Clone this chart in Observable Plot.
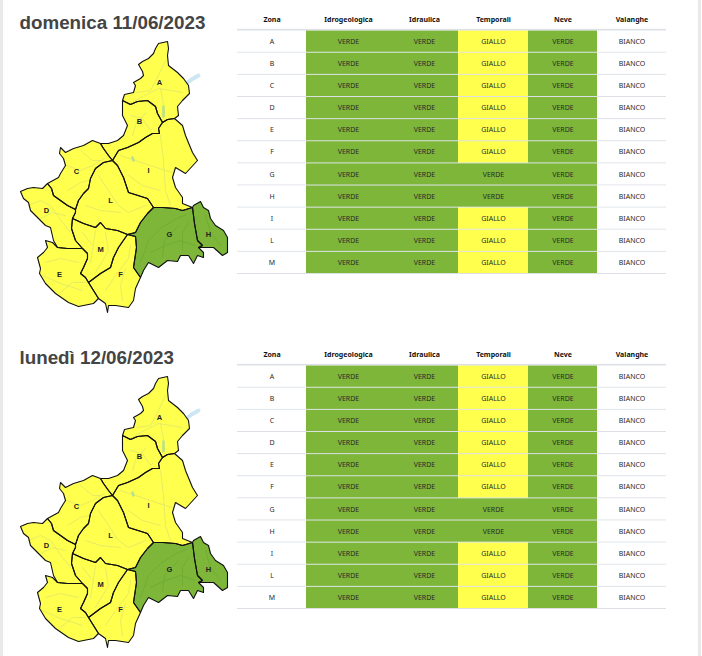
<!DOCTYPE html>
<html><head><meta charset="utf-8">
<script src="https://cdn.jsdelivr.net/npm/d3@7"></script>
<script src="https://cdn.jsdelivr.net/npm/@observablehq/plot@0.6"></script>
<style>
html,body{margin:0;padding:0;background:#fff;overflow:hidden}
#page{position:relative;width:702px;height:656px;overflow:hidden}
.panel{display:flex;align-items:flex-start}
.panel svg{display:block;background:transparent}
.edge{position:absolute;top:0;bottom:0;width:3px;background:#e9e9e9}
</style></head><body>
<div id="page"><div class="edge" style="left:0"></div><div class="edge" style="left:698px"></div></div>
<script>
// ---- Text and values ----
const days = ["domenica 11/06/2023", "lunedì 12/06/2023"];
const zones = ["A","B","C","D","E","F","G","H","I","L","M"];
const columns = ["Zona","Idrogeologica","Idraulica","Temporali","Neve","Valanghe"];
const idrogeologica = Array(11).fill("VERDE");
const idraulica = Array(11).fill("VERDE");
const temporali = ["GIALLO","GIALLO","GIALLO","GIALLO","GIALLO","GIALLO","VERDE","VERDE","GIALLO","GIALLO","GIALLO"];
const neve = Array(11).fill("VERDE");
const valanghe = Array(11).fill("BIANCO");
const levels = ["VERDE","GIALLO","BIANCO"];
const levelColors = ["#7db638","#ffff4d","#ffffff"];
const columnEdges = [0,69,153,221,291,360,429];

// ---- Map boundaries (map units) ----
const aNorth = [[122,100],[124,94],[133,92],[135,85],[133,82],[140,78],[143,75],[142,71],[138,64],[142,61],[148,58],[153,53],[155,48],[158,43],[167,41],[168,48],[167,55],[168,65],[177,72],[183,78],[188,85],[189,93],[182,100],[177,106],[178,115],[174,118]];
const aB = [[122,100],[130,104],[137,101],[147,100],[155,106],[157,113],[162,122]];
const aI = [[162,122],[167,119],[174,118]];
const bWest = [[122,100],[122,115],[127,125],[123,135],[117,140],[108,143],[100,143]];
const bC = [[100,143],[103,148],[108,155],[112,160]];
const bI = [[112,160],[118,150],[127,147],[138,142],[145,137],[152,133],[159,133],[158,128],[162,122]];
const iEast = [[174,118],[182,125],[185,135],[192,152],[197,160],[185,173],[175,167],[172,177],[175,187],[182,197],[182,203],[192,207]];
const iG = [[192,207],[182,210],[175,208],[162,207],[153,207]];
const iL = [[153,207],[147,198],[128,192],[123,177],[117,165],[112,160]];
const lC = [[112,160],[103,162],[95,168],[90,178],[88,188],[83,193],[78,200],[75,209]];
const lD = [[75,209],[75,212],[72,218]];
const lM = [[72,218],[83,223],[95,227],[100,222],[105,228],[117,230],[127,234]];
const lG = [[127,234],[135,232],[140,222],[147,213],[153,207]];
const cNorth = [[100,143],[92,140],[83,145],[73,148],[65,152],[60,147],[59,153],[63,158],[65,165],[60,173],[58,177],[47,183]];
const cD = [[47,183],[51,188],[53,195],[60,200],[67,205],[75,209]];
const dWest = [[47,183],[42,188],[33,187],[27,188],[20,191],[23,198],[28,202],[30,210],[38,218],[45,225],[50,227],[53,240],[57,247]];
const dE = [[57,247],[67,248],[82,248]];
const dM = [[72,218],[71,228],[75,240],[82,248]];
const eM = [[82,248],[87,253],[87,258],[83,267],[80,273],[85,277],[88,282]];
const eWest = [[57,247],[52,242],[45,240],[47,247],[43,252],[37,257],[40,268],[39,273],[45,283],[55,293],[68,302],[78,306],[93,303],[98,298]];
const eF = [[88,282],[93,290],[98,298]];
const fM = [[127,234],[118,247],[113,257],[110,267],[100,273],[88,282]];
const fSouth = [[98,298],[105,303],[107,312],[108,305],[115,305],[128,307],[133,300],[135,288],[140,277]];
const fG = [[127,234],[135,236],[136,247],[133,267],[140,277]];
const gSouth = [[140,277],[143,270],[148,262],[158,267],[167,260],[177,261],[180,255],[188,255],[193,263],[197,255],[203,257],[203,252],[198,247]];
const gH = [[192,207],[194,223],[197,240],[202,245],[198,247]];
const hEast = [[192,207],[193,205],[200,201],[203,207],[208,210],[210,218],[215,225],[223,230],[227,237],[227,252],[222,255],[213,247],[203,247],[198,247]];

const rev = a => a.slice().reverse();
const ring = (...arcs) => arcs.flat();
const zoneRings = {
  A: ring(aNorth, rev(aI), rev(aB)),
  B: ring(aB, rev(bI), rev(bC), rev(bWest)),
  C: ring(bC, lC, rev(cD), rev(cNorth)),
  D: ring(cD, lD, dM, rev(dE), rev(dWest)),
  E: ring(dE, eM, eF, rev(eWest)),
  F: ring(fM, eF, fSouth, rev(fG)),
  G: ring(rev(iG), gH, rev(gSouth), rev(fG), lG),
  H: ring(hEast, rev(gH)),
  I: ring(bI, aI, iEast, iG, iL),
  L: ring(iL, lC, lD, lM, lG),
  M: ring(lM, fM, rev(eM), rev(dM))
};
const labelX = [159,139,76,46,59,120,169,208,148,110,100];
const labelY = [82,121,171,210,274,274,234,234,170,200,249];

// faint river traces
const riversYellow = [
 [[127,105],[140,97],[158,88],[170,90],[182,92]],[[136,92],[150,90],[158,75],[165,60]],[[160,88],[163,104]],
 [[130,115],[142,118],[150,130],[152,128]],[[132,135],[136,122],[146,112]],
 [[120,155],[135,160],[150,165],[165,170],[172,172]],[[160,135],[163,160],[165,190],[170,205]],[[128,175],[142,185],[160,190]],
 [[66,165],[80,170],[92,165],[104,158]],[[67,190],[80,182],[88,180]],[[80,150],[92,160],[100,160]],
 [[28,205],[40,200],[50,205],[62,222],[70,232]],[[40,218],[52,212],[65,215]],
 [[98,175],[108,190],[118,205],[128,212],[145,205]],[[85,205],[100,210],[120,212]],
 [[95,230],[92,250],[90,262]],[[105,232],[108,250],[95,272]],[[82,232],[92,245]],
 [[45,262],[60,258],[78,262]],[[42,275],[60,283],[82,290]],[[60,292],[72,282],[85,282]],
 [[105,290],[115,275],[128,258],[130,245]],[[122,300],[120,285],[125,268]]
];
const riversGreen = [
 [[140,262],[148,240],[160,228],[176,218],[186,214]],[[150,252],[165,245],[180,240],[195,245]],
 [[162,256],[164,240],[178,225]],[[182,250],[182,232],[188,222]],[[205,215],[210,232],[220,245]]
];
const outerLake = [[[186,83],[191,79],[198,75]]];
const innerLakes = [[[163,106],[163,116]],[[132,157],[133,160]]];

const levelOf = Object.fromEntries(zones.map((z,i)=>[z,temporali[i]]));
const features = zones.map(z => ({
  type:"Feature", properties:{zone:z, level:levelOf[z]},
  geometry:{type:"Polygon", coordinates:[zoneRings[z]]}
}));
const lineGeo = a => ({type:"MultiLineString", coordinates:a});
const seriesByColumn = [zones, idrogeologica, idraulica, temporali, neve, valanghe];
const rowsY = ["header", ...zones];
const cells = [];
seriesByColumn.forEach((s,c)=> s.forEach((v,r)=> cells.push({c, row:zones[r], value:v})));
const header = columns.map((name,c)=>({c,name}));
const levelSet = new Set(levels);
const colour = {domain:levels, range:levelColors};

function mapPlot(day, height){
  return Plot.plot({
    width:237, height, margin:0, style:{background:"transparent"},
    projection:d3.geoIdentity(),
    color:colour,
    marks:[
      Plot.geo([lineGeo(outerLake)],{stroke:"#cde6f3",strokeWidth:4,strokeLinecap:"round",fill:"none"}),
      Plot.geo(features,{fill:d=>d.properties.level,stroke:"none"}),
      Plot.geo([lineGeo(riversYellow)],{stroke:"#dfe56a",strokeWidth:0.8,fill:"none"}),
      Plot.geo([lineGeo(riversGreen)],{stroke:"#6dab30",strokeWidth:0.8,fill:"none"}),
      Plot.geo([lineGeo(innerLakes)],{stroke:"#b5e08f",strokeWidth:2.5,strokeLinecap:"round",fill:"none"}),
      Plot.geo(features,{fill:"none",stroke:"#111",strokeWidth:1.1,strokeLinejoin:"round"}),
      Plot.text(zones,{x:(d,i)=>labelX[i],y:(d,i)=>labelY[i],text:d=>d,fontSize:7.5,fontWeight:"bold",fontFamily:"Liberation Sans",fill:"#222"}),
      Plot.text([day],{x:()=>19,y:()=>22,text:d=>d,textAnchor:"start",fontSize:18.8,fontWeight:"bold",fontFamily:"Liberation Sans",fill:"#444"})
    ]
  });
}

function tablePlot(height){
  const font = {fontFamily:"Noto Sans",fontSize:7,fill:"#2b2b2b",dy:-0.6};
  return Plot.plot({
    width:465, height, margin:0, style:{background:"transparent"},
    x:{type:"linear",domain:d3.range(7),range:columnEdges,axis:null},
    y:{type:"band",domain:rowsY,range:[8.5,274],padding:0,align:0,axis:null,round:false},
    color:colour,
    marks:[
      Plot.barX(["header"],{x1:()=>0,x2:()=>6,y:d=>d,fill:()=>"#dde1e6",insetTop:20.4}),
      Plot.barX(zones,{x1:()=>0,x2:()=>6,y:d=>d,fill:()=>"#dde1e6"}),
      Plot.barX(cells,{x1:d=>d.c,x2:d=>d.c+1,y:"row",fill:d=>levelSet.has(d.value)?d.value:"BIANCO",insetBottom:1}),
      Plot.text(header,{x:d=>d.c+0.5,y:()=>"header",text:"name",...font,fontWeight:"bold",fill:"#111"}),
      Plot.text(cells,{x:d=>d.c+0.5,y:"row",text:"value",...font})
    ]
  });
}

const page = document.getElementById("page");
days.forEach((day,i)=>{
  const h = i===0 ? 335 : 321;
  const panel = document.createElement("div");
  panel.className = "panel";
  panel.append(mapPlot(day,h), tablePlot(h));
  page.append(panel);
});
</script>
</body></html>
